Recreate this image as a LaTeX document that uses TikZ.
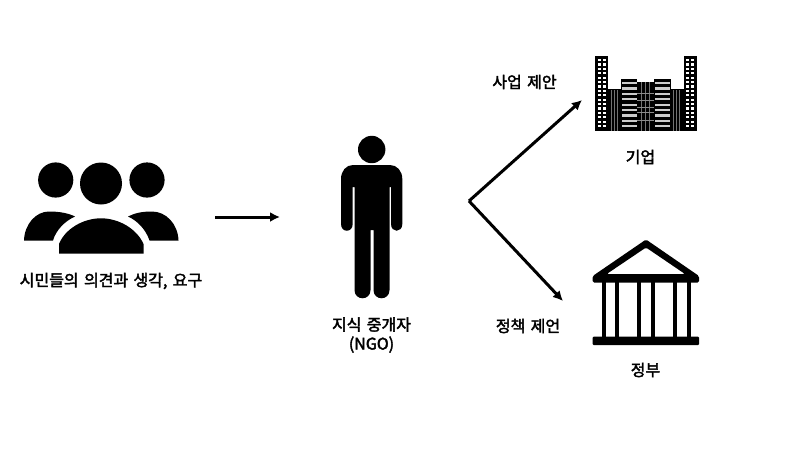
\documentclass[tikz,border=0pt]{standalone}
\usepackage{fontspec}
\setmainfont[FakeBold=2.4,WordSpace=1.5]{Noto Sans CJK KR}
\usetikzlibrary{arrows.meta}
\tikzset{
  x=1pt,y=-1pt,
  lab/.style={font=\fontsize{16}{19}\selectfont,align=center,inner sep=0pt,text=black},
  conn/.style={line width=3pt,-{Latex[length=10pt,width=10pt]}},
  ink/.style={fill=black,draw=none},
}
\begin{document}
\begin{tikzpicture}
\useasboundingbox (0,0) rectangle (800,450);
\fill[white] (0,0) rectangle (800,450);
% people
\fill[ink] (55.7,180) circle[radius=17.6];
\fill[ink] (101,183.5) circle[radius=21];
\fill[ink] (147,180) circle[radius=17.6];
\fill[ink] (24,240.5) .. controls (24.5,224) and (36,211.5) .. (49,211.5) .. controls (59,211.5) and (68,213) .. (75,216.5) .. controls (65,221) and (56,230) .. (53,240.5) -- cycle;
\fill[ink] (178.5,240.5) .. controls (178,224) and (166,211.5) .. (152,211.5) .. controls (142,211.5) and (135,213) .. (128,216.5) .. controls (138,221) and (146,230) .. (149.5,240.5) -- cycle;
\fill[ink] (59,253.5) -- (59,244) .. controls (65,229) and (83,218.3) .. (101,218.3) .. controls (119,218.3) and (137,229) .. (143.5,244) -- (143.5,253.5) -- cycle;
% person
\fill[ink] (371.7,149.5) circle[radius=13.7];
\fill[ink] (353,165) .. controls (346,165) and (341,171) .. (341,179) -- (341,224) .. controls (341,233) and (352.7,233) .. (352.7,224) -- (352.7,187) -- (354.5,187) -- (354.5,290) .. controls (354.5,301) and (370.5,301) .. (370.5,290) -- (370.5,230) -- (373.5,230) -- (373.5,290) .. controls (373.5,301) and (389.5,301) .. (389.5,290) -- (389.5,187) -- (391,187) -- (391,224) .. controls (391,233) and (402.3,233) .. (402.3,224) -- (402.3,179) .. controls (402.3,171) and (397,165) .. (390,165) -- cycle;
% building
\fill[ink] (595,56) rectangle (608.3,130.7);
\fill[ink] (683.7,56) rectangle (697,130.7);
\foreach \xa in {597.6,602.6,686.2,691.3}{
  \foreach \ya in {59,63.4,...,128}{
    \fill[white] (\xa,\ya) rectangle +(3,2.2);
  }
}
\fill[ink] (608.3,88.5) rectangle (620.7,130.7);
\fill[ink] (670.7,88.5) rectangle (683.7,130.7);
\foreach \xa in {610.5,613.5,616.5,672.5,675.5,678.5}{
  \fill[white!45!black] (\xa,90) rectangle +(1,40.7);
}
\fill[ink] (620.7,79) rectangle (637.3,130.7);
\fill[ink] (654,79) rectangle (670.7,130.7);
\foreach \ya in {82,87.4,...,128}{
  \fill[white!80!black] (621.5,\ya) rectangle (636.5,\ya+2.2);
  \fill[white!80!black] (654.8,\ya) rectangle (670,\ya+2.2);
}
\fill[ink] (637.3,81.7) rectangle (654,130.7);
\foreach \xa in {641,645.2,649.4}{
  \fill[black!55] (\xa,82) rectangle +(0.8,48.7);
}
\foreach \ya in {93,100,107,112,120}{
  \fill[black!45] (637.3,\ya) rectangle (654,\ya+0.8);
}
% temple
\fill[ink,even odd rule,rounded corners=1.5pt] (646,239.5) -- (699,276) -- (699,282.5) -- (592.7,282.5) -- (592.7,276) -- cycle
  (646,247.5) -- (606.7,274) -- (685,274) -- cycle;
\foreach \xa in {601.7,615,637.3,650.7,673.3,686.7}{
  \fill[ink] (\xa,282) rectangle +(4,55);
}
\fill[ink,rounded corners=1pt] (592.7,336.7) rectangle (699,345);
% anchors and connectors
\coordinate (ppl) at (215,217);
\coordinate (mid) at (280,217);
\coordinate (fork) at (469,201);
\coordinate (biz) at (582,100);
\coordinate (gov) at (563,301);
\draw[conn] (ppl) -- (mid);
\draw[conn] (fork) -- (biz);
\draw[conn] (fork) -- (gov);
% labels
\node[lab] (t1) at (111,281) {시민들의 의견과 생각, 요구};
\node[lab] (t2) at (371.5,335) {지식 중개자\\(NGO)};
\node[lab] (t3) at (524.5,82) {사업 제안};
\node[lab] (t4) at (640.5,157) {기업};
\node[lab] (t5) at (528,326) {정책 제언};
\node[lab] (t6) at (645.5,370) {정부};
\end{tikzpicture}
\end{document}
